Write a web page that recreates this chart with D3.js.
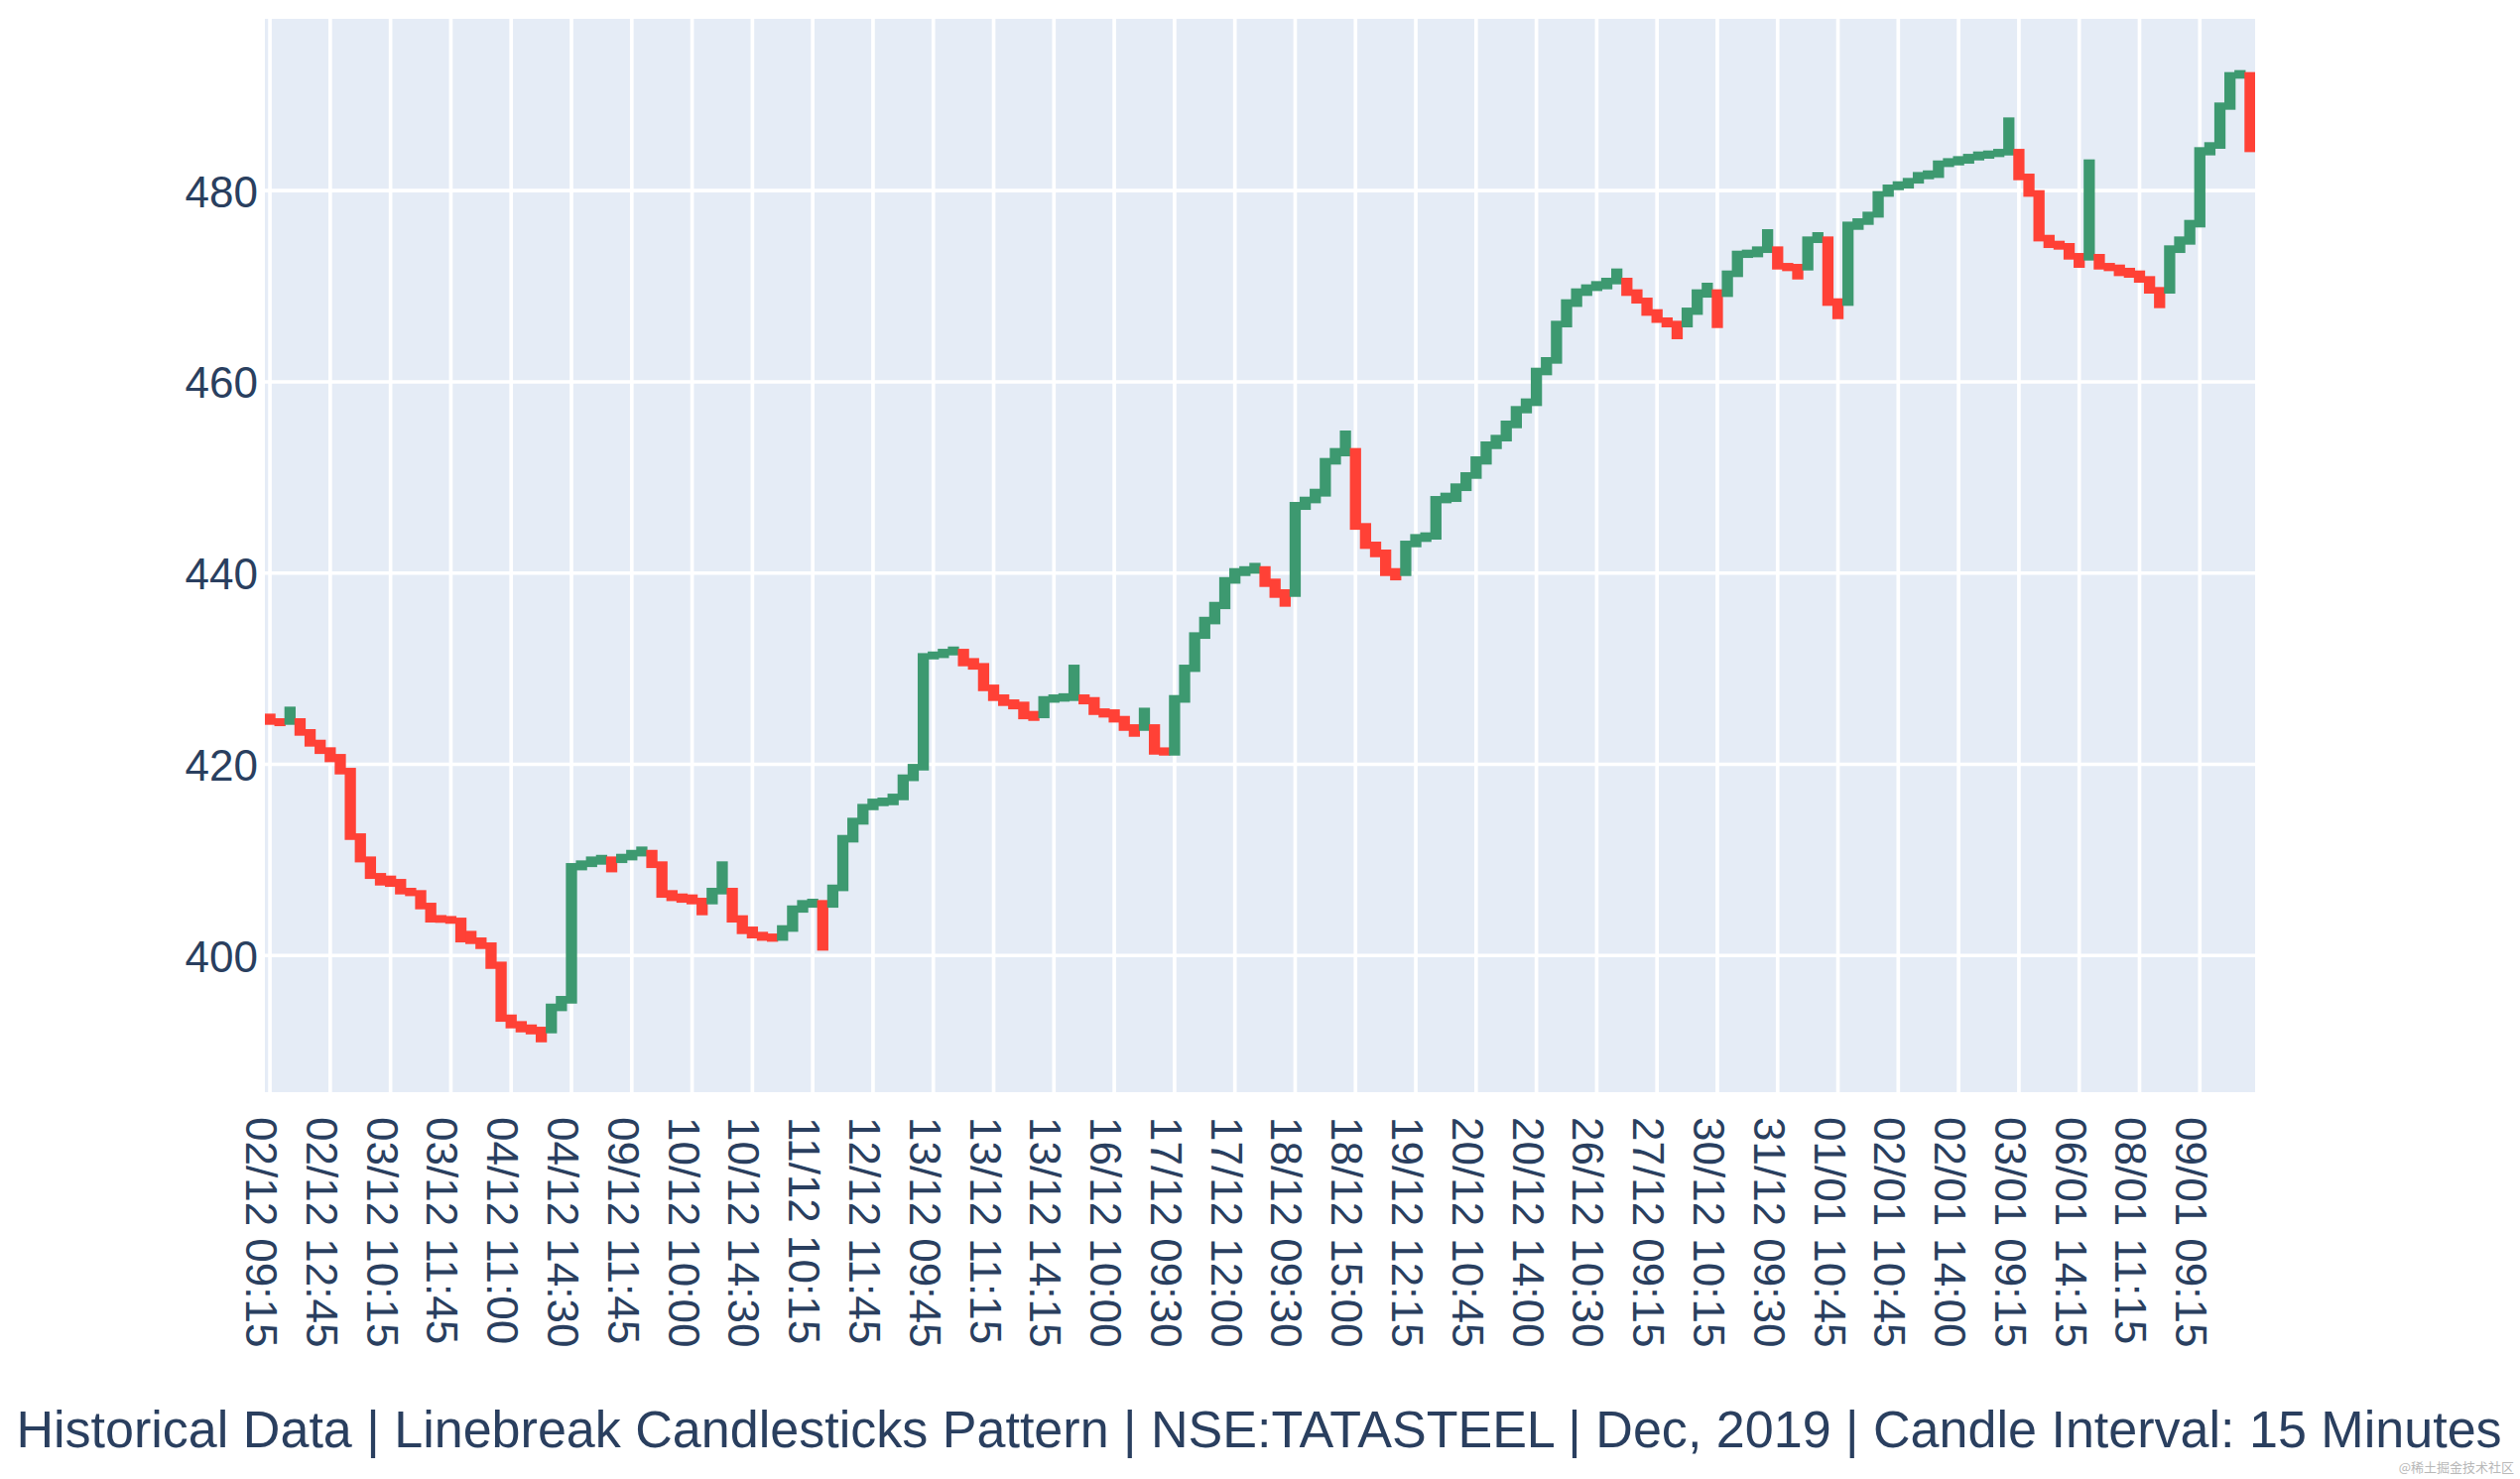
<!DOCTYPE html>
<html><head><meta charset="utf-8">
<script src="https://cdn.jsdelivr.net/npm/d3@7"></script>
<style>html,body{margin:0;padding:0;background:#fff;overflow:hidden}</style>
</head><body>
<svg id="chart" width="2540" height="1491"></svg>
<script>
// ---- data ----
const openVals = [
424.92,424.44,424.51,424.44,423.30,422.19,421.40,420.70,419.25,412.40,
409.98,408.25,407.98,407.63,406.70,406.46,405.14,403.85,403.75,403.58,
402.20,401.51,400.99,398.98,393.45,392.76,392.41,392.17,392.24,394.56,
395.35,409.29,409.63,409.88,409.98,410.05,410.33,410.74,410.67,409.47,
406.46,406.11,406.01,405.66,405.73,406.77,406.70,403.83,402.65,402.10,
401.92,401.92,402.86,404.86,405.38,405.42,405.38,407.11,412.20,414.07,
415.58,416.00,416.10,416.62,418.62,419.73,431.35,431.49,431.77,431.70,
430.73,430.21,427.96,426.93,426.41,426.17,425.20,425.20,426.82,426.93,
427.00,426.93,426.65,425.47,425.37,424.68,423.81,423.88,423.81,421.39,
421.29,426.82,430.04,433.50,435.02,436.61,439.27,440.07,440.31,440.34,
439.04,437.93,437.89,446.99,447.68,448.38,451.73,452.59,452.70,444.85,
442.91,442.08,440.14,440.07,443.08,443.64,443.88,447.68,447.82,448.96,
450.24,451.73,453.35,454.15,455.53,457.09,457.85,461.07,462.28,466.08,
468.22,469.37,469.88,470.06,470.58,470.51,469.30,468.43,467.22,466.36,
466.01,466.08,467.39,469.19,469.30,469.26,471.34,473.34,473.41,473.86,
473.79,472.06,471.96,472.03,474.90,474.83,468.36,468.33,476.28,476.80,
477.56,479.74,480.43,480.60,481.12,481.57,481.71,482.85,483.02,483.20,
483.54,483.72,483.89,484.06,483.99,481.40,479.67,475.00,474.38,474.14,
473.10,473.07,473.00,472.06,471.89,471.55,471.27,470.68,469.54,469.61,
473.86,474.73,476.53,484.07,484.76,488.84,492.09,492.02
];
const closeVals = [
424.51,424.37,425.65,423.37,422.23,421.46,420.60,419.32,412.47,410.12,
408.39,407.70,407.56,406.77,406.59,405.21,403.83,403.80,403.70,401.75,
401.58,401.06,398.98,393.45,392.76,392.34,392.13,391.30,394.59,395.39,
409.29,409.57,409.98,410.15,409.08,410.26,410.67,411.02,409.53,406.42,
406.07,405.90,405.73,404.59,406.70,409.47,403.83,402.62,402.17,401.92,
401.82,402.79,404.86,405.42,405.56,400.89,407.04,412.23,414.03,415.48,
416.03,416.14,416.55,418.56,419.66,431.25,431.42,431.70,431.94,430.63,
430.28,428.03,427.00,426.48,426.13,425.09,424.92,426.75,426.93,427.05,
430.04,426.65,425.54,425.27,424.75,423.88,423.26,425.54,421.39,421.29,
426.86,430.04,433.43,435.05,436.61,439.20,440.14,440.34,440.69,438.93,
437.79,436.86,447.06,447.61,448.44,451.66,452.70,454.53,444.91,442.91,
442.04,440.07,439.62,443.01,443.70,443.88,447.68,448.03,449.00,450.17,
451.83,453.39,454.08,455.57,457.09,457.89,461.10,462.21,466.01,468.26,
469.40,469.82,470.16,470.51,471.48,469.37,468.57,467.29,466.55,466.08,
464.84,467.39,469.30,469.99,466.01,471.27,473.34,473.45,473.79,475.59,
472.13,471.96,471.09,474.83,475.28,468.33,466.94,476.38,476.73,477.42,
479.57,480.26,480.60,480.95,481.57,481.74,482.78,483.02,483.23,483.47,
483.72,483.82,483.99,487.28,481.47,479.74,475.07,474.38,474.21,473.17,
472.31,482.89,472.13,471.96,471.44,471.27,470.75,469.61,468.09,473.90,
474.83,476.56,484.17,484.69,488.84,492.02,492.23,484.41
];
const categories = openVals.map((_, i) => i);
const tickLabels = [
"02/12 09:15","02/12 12:45","03/12 10:15","03/12 11:45","04/12 11:00","04/12 14:30",
"09/12 11:45","10/12 10:00","10/12 14:30","11/12 10:15","12/12 11:45","13/12 09:45",
"13/12 11:15","13/12 14:15","16/12 10:00","17/12 09:30","17/12 12:00","18/12 09:30",
"18/12 15:00","19/12 12:15","20/12 10:45","20/12 14:00","26/12 10:30","27/12 09:15",
"30/12 10:15","31/12 09:30","01/01 10:45","02/01 10:45","02/01 14:00","03/01 09:15",
"06/01 14:15","08/01 11:15","09/01 09:15"
];
const tickStep = 6;
const yTicks = [400, 420, 440, 460, 480];
const titleText = "Historical Data | Linebreak Candlesticks Pattern | NSE:TATASTEEL | Dec, 2019 | Candle Interval: 15 Minutes";
const watermark = "@稀土掘金技术社区";

// ---- layout ----
const W = 2540, H = 1491;
const L = 267, R = 2273, T = 19, B = 1101;
const UP = "#3D9970", DOWN = "#FF4136", TEXT = "#2a3f5f";
const FONT = "'Liberation Sans', Arial, Helvetica, sans-serif";
const S = 3.67; // scale factor

const svg = d3.select("#chart");
svg.append("rect").attr("width", W).attr("height", H).attr("fill", "#fff");
svg.append("rect").attr("x", L).attr("y", T).attr("width", R - L).attr("height", B - T).attr("fill", "#E5ECF6");

const x = d3.scaleBand().domain(categories).range([L, R]).padding(0);
const y = d3.scaleLinear().domain([385.71, 497.97]).range([B, T]);
const bw = x.bandwidth();
const tickCats = tickLabels.map((_, k) => categories[k * tickStep]);

// gridlines
const grid = svg.append("g");
grid.selectAll("line.h").data(yTicks).join("line")
  .attr("x1", L).attr("x2", R).attr("y1", d => y(d)).attr("y2", d => y(d))
  .attr("stroke", "#fff").attr("stroke-width", S);
grid.selectAll("line.v").data(tickCats).join("line")
  .attr("y1", T).attr("y2", B).attr("x1", d => x(d) + bw / 2).attr("x2", d => x(d) + bw / 2)
  .attr("stroke", "#fff").attr("stroke-width", S);

// candles
svg.append("clipPath").attr("id", "clip").append("rect")
  .attr("x", L).attr("y", T).attr("width", R - L).attr("height", B - T);
const bodyW = bw * 0.39;
svg.append("g").attr("clip-path", "url(#clip)")
  .selectAll("rect").data(categories).join("rect")
  .attr("x", i => x(i) + bw / 2 - bodyW / 2)
  .attr("width", bodyW)
  .attr("y", i => y(Math.max(openVals[i], closeVals[i])))
  .attr("height", i => Math.abs(y(openVals[i]) - y(closeVals[i])))
  .attr("fill", i => closeVals[i] >= openVals[i] ? UP : DOWN)
  .attr("stroke", i => closeVals[i] >= openVals[i] ? UP : DOWN)
  .attr("stroke-width", 2 * S);

// y axis
const yAxis = svg.append("g").attr("transform", `translate(${L},0)`)
  .call(d3.axisLeft(y).tickValues(yTicks).tickSize(0).tickPadding(7));
yAxis.select(".domain").remove();
yAxis.selectAll("text").attr("font-family", FONT).attr("font-size", 44).attr("fill", TEXT).attr("dy", "0.36em");

// x axis
const xAxis = svg.append("g").attr("transform", `translate(0,${B})`)
  .call(d3.axisBottom(x).tickValues(tickCats).tickSize(0).tickFormat(d => tickLabels[d / tickStep]));
xAxis.select(".domain").remove();
xAxis.selectAll("text")
  .attr("font-family", FONT).attr("font-size", 44).attr("fill", TEXT)
  .attr("x", 0).attr("y", 0).attr("dy", 0)
  .attr("text-anchor", "start")
  .attr("transform", "translate(-24,25) rotate(90)");

// title (x-axis title)
svg.append("text").attr("x", 1269).attr("y", 1459)
  .attr("text-anchor", "middle").attr("font-family", FONT).attr("font-size", 52.05)
  .attr("fill", TEXT).text(titleText);

// watermark
svg.append("text").attr("x", 2534).attr("y", 1484)
  .attr("text-anchor", "end").attr("font-family", "'Noto Sans CJK SC', sans-serif")
  .attr("font-size", 13).attr("fill", "#b8b8b8").text(watermark);
</script>
</body></html>
